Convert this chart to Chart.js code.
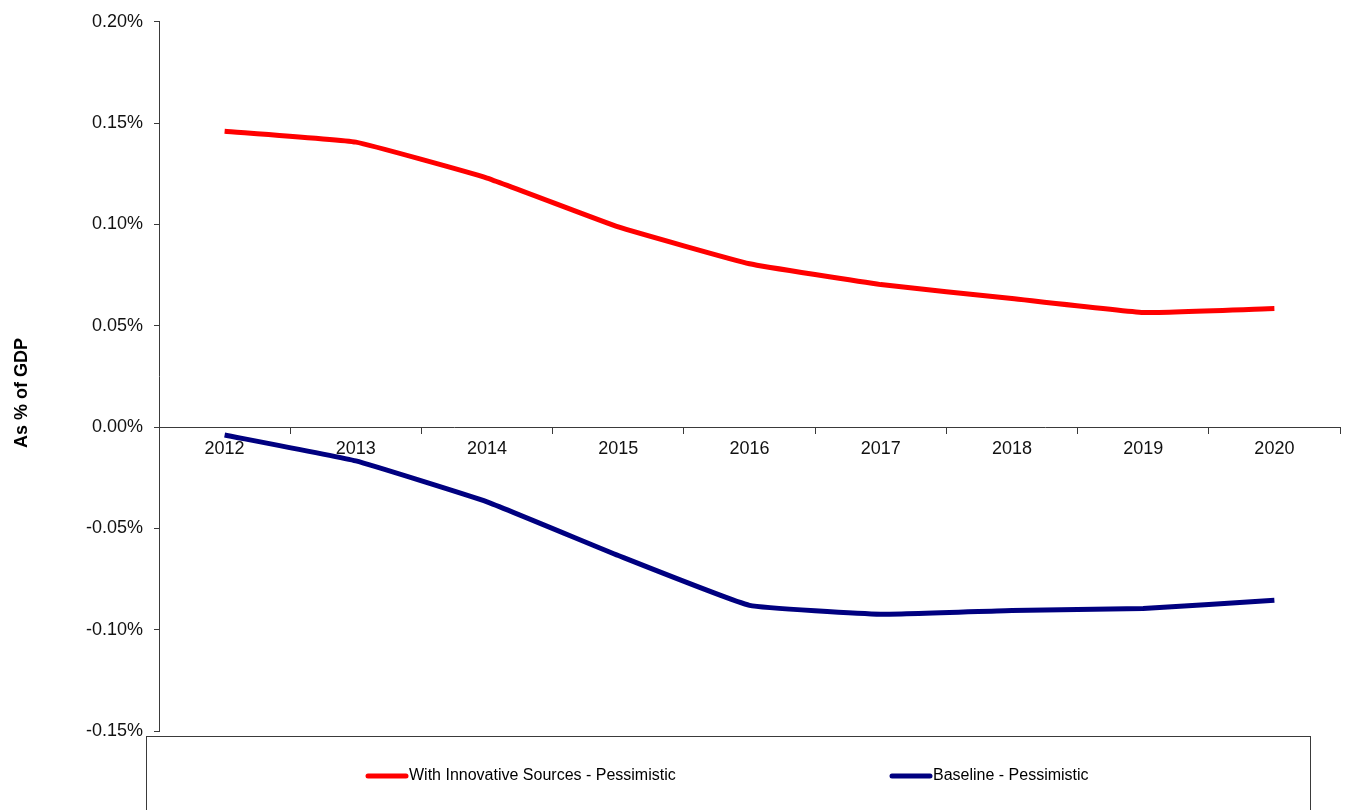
<!DOCTYPE html>
<html>
<head>
<meta charset="utf-8">
<script src="https://cdn.jsdelivr.net/npm/chart.js@4.4.1/dist/chart.umd.min.js"></script>
<style>
    html, body { margin: 0; padding: 0; background: #ffffff; }
    #wrap { width: 1347px; height: 810px; position: relative; }
</style>
</head>
<body>
<div id="wrap"><canvas id="gdpChart"></canvas></div>
<script>
const anios = ["2012", "2013", "2014", "2015", "2016", "2017", "2018", "2019", "2020"];

// Valores en % del PIB
const innovadoras = [0.146, 0.1406, 0.1229, 0.0988, 0.0806, 0.0703, 0.0634, 0.0565, 0.0585];
const base = [-0.0039, -0.0167, -0.0369, -0.0634, -0.088, -0.0924, -0.0905, -0.0895, -0.0855];

const etiquetas = ["With Innovative Sources - Pessimistic", "Baseline - Pessimistic"];
const colores = ["#ff0000", "#000080"];

const ejeMin = -0.15;
const ejeMax = 0.20;
const ejePaso = 0.05;
const tituloEje = "As % of GDP";

const fuente = "'Liberation Sans', Arial, sans-serif";
const colorEje = "#3a3a3a";

// Titulo del eje Y, rotado
const tituloEjePlugin = {
    id: "tituloEje",
    afterDraw(chart) {
        const ctx = chart.ctx;
        ctx.save();
        ctx.translate(22, 393);
        ctx.rotate(-Math.PI / 2);
        ctx.font = `bold 18px ${fuente}`;
        ctx.fillStyle = "#000";
        ctx.textAlign = "center";
        ctx.textBaseline = "middle";
        ctx.fillText(tituloEje, 0, 0);
        ctx.restore();
    }
};

// Leyenda con recuadro en la parte inferior
const leyendaPlugin = {
    id: "leyendaCaja",
    afterDraw(chart) {
        const ctx = chart.ctx;
        ctx.save();
        ctx.strokeStyle = colorEje;
        ctx.lineWidth = 1;
        ctx.strokeRect(146.5, 736.5, 1164, 120);

        const posX = [368, 892];
        const y = 776;
        chart.data.datasets.forEach((ds, i) => {
            ctx.strokeStyle = ds.borderColor;
            ctx.lineWidth = 5;
            ctx.lineCap = "round";
            ctx.beginPath();
            ctx.moveTo(posX[i], y);
            ctx.lineTo(posX[i] + 38, y);
            ctx.stroke();

            ctx.font = `16px ${fuente}`;
            ctx.fillStyle = "#000";
            ctx.textAlign = "left";
            ctx.textBaseline = "middle";
            ctx.fillText(ds.label, posX[i] + 41, y);
        });
        ctx.restore();
    }
};

new Chart(document.querySelector("#gdpChart"), {
    type: "line",
    data: {
        labels: anios,
        datasets: [
            {
                label: etiquetas[0],
                data: innovadoras,
                borderColor: colores[0],
                backgroundColor: colores[0],
                borderWidth: 5,
                pointRadius: 0,
                tension: 0.1,
                fill: false
            },
            {
                label: etiquetas[1],
                data: base,
                borderColor: colores[1],
                backgroundColor: colores[1],
                borderWidth: 5,
                pointRadius: 0,
                tension: 0.1,
                fill: false
            }
        ]
    },
    options: {
        responsive: true,
        maintainAspectRatio: false,
        animation: false,
        layout: { padding: { top: 20, right: 7, bottom: 79, left: 0 } },
        plugins: {
            legend: { display: false },
            tooltip: { enabled: false }
        },
        scales: {
            x: {
                type: "category",
                position: { y: 0 },
                offset: true,
                grid: {
                    offset: true,
                    drawOnChartArea: false,
                    drawTicks: true,
                    tickLength: 6,
                    color: colorEje
                },
                border: { color: colorEje, width: 1 },
                ticks: {
                    color: "#111",
                    font: { family: fuente, size: 18 },
                    padding: 5,
                    maxRotation: 0
                }
            },
            y: {
                min: ejeMin,
                max: ejeMax,
                afterFit(scale) { scale.width = 159; },
                grid: {
                    drawOnChartArea: false,
                    drawTicks: true,
                    tickLength: 5,
                    color: colorEje
                },
                border: { color: colorEje, width: 1 },
                ticks: {
                    stepSize: ejePaso,
                    color: "#111",
                    font: { family: fuente, size: 18 },
                    padding: 11,
                    callback: (v) => v.toFixed(2) + "%"
                }
            }
        }
    },
    plugins: [tituloEjePlugin, leyendaPlugin]
});
</script>
</body>
</html>
